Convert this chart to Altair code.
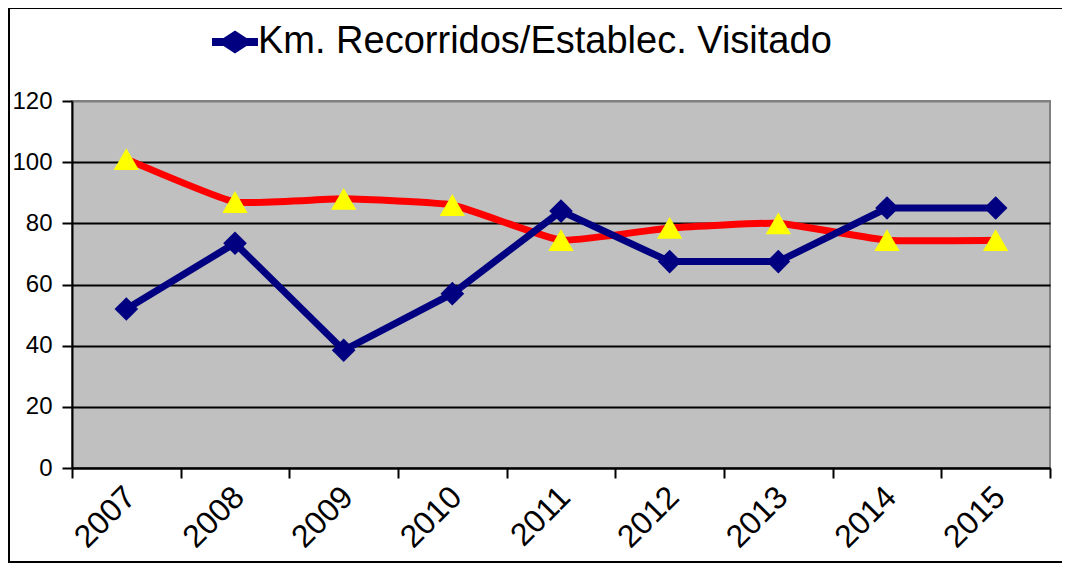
import altair as alt
import pandas as pd

years = ["2007", "2008", "2009", "2010", "2011", "2012", "2013", "2014", "2015"]
km_recorridos = [52, 73.5, 38.5, 57, 84, 67.5, 67.5, 85, 85]
serie_roja = [101, 87, 88, 86, 74.5, 78.5, 80, 74.5, 74.5]
y_ticks = [0, 20, 40, 60, 80, 100, 120]
legend_label = "Km. Recorridos/Establec. Visitado"

df_blue = pd.DataFrame({"year": years, "value": km_recorridos, "serie": legend_label})
df_red = pd.DataFrame({"year": years, "value": serie_roja})

FONT = "Arial, Liberation Sans, sans-serif"

x_enc = alt.X(
    "year:N",
    scale=alt.Scale(type="band", domain=years, paddingInner=0, paddingOuter=0),
    axis=alt.Axis(
        title=None, labelAngle=-45, labelFontSize=32, labelFont=FONT, labelColor="#000000",
        tickBand="extent", tickSize=10, tickColor="#000000", tickWidth=2,
        domainColor="#000000", domainWidth=2, labelPadding=3, labelOffset=-7, grid=False,
    ),
)
y_enc = alt.Y(
    "value:Q",
    scale=alt.Scale(domain=[0, 120], nice=False),
    axis=alt.Axis(
        title=None, values=y_ticks, labelFontSize=24, labelFont=FONT, labelColor="#000000",
        tickSize=10, tickColor="#000000", tickWidth=2, domainColor="#000000", domainWidth=2,
        labelPadding=10, grid=True, gridWidth=2,
        gridColor={"condition": {"test": "datum.value >= 120", "value": "#808080"}, "value": "#000000"},
    ),
)

red_line = alt.Chart(df_red).mark_line(color="#FF0000", strokeWidth=7, interpolate="cardinal", tension=0.6).encode(x=x_enc, y=y_enc)
red_pts = alt.Chart(df_red).mark_point(shape="triangle-up", filled=True, color="#FFFF00", size=640, opacity=1).encode(x=x_enc, y=y_enc)

legend_symbol = "M-1,-0.17L-0.5,-0.17L0,-0.5L0.5,-0.17L1,-0.17L1,0.17L0.5,0.17L0,0.5L-0.5,0.17L-1,0.17Z"

blue_line = alt.Chart(df_blue).mark_line(strokeWidth=7).encode(
    x=x_enc, y=y_enc,
    color=alt.Color(
        "serie:N",
        scale=alt.Scale(domain=[legend_label], range=["#000080"]),
        legend=alt.Legend(
            title=None, orient="none", legendX=140, legendY=-82, padding=0,
            symbolType=legend_symbol, symbolSize=2116, symbolFillColor="#000080",
            symbolStrokeWidth=0, symbolOffset=0,
            labelFontSize=38, labelFont=FONT, labelColor="#000000", labelOffset=0,
            labelLimit=1000,
        ),
    ),
)
blue_pts = alt.Chart(df_blue).mark_point(shape="diamond", filled=True, color="#000080", size=560, opacity=1).encode(x=x_enc, y=y_enc)

frame = df_red.head(1)
border_top = alt.Chart(frame).mark_rule(color="#000000", strokeWidth=2).encode(
    x=alt.value(-64), x2=alt.value(1100), y=alt.value(-93)
)
border_left = alt.Chart(frame).mark_rule(color="#000000", strokeWidth=2).encode(
    x=alt.value(-63), y=alt.value(-94), y2=alt.value(462)
)
border_bottom = alt.Chart(frame).mark_rule(color="#000000", strokeWidth=2).encode(
    x=alt.value(-64), x2=alt.value(1100), y=alt.value(461)
)

chart = alt.layer(red_line, blue_line, red_pts, blue_pts, border_top, border_left, border_bottom).properties(
    width=978, height=367,
    autosize=alt.AutoSizeParams(type="none"),
    padding={"left": 64, "top": 93, "right": 12, "bottom": 96},
    background="#FFFFFF",
).configure_view(
    fill="#C0C0C0", stroke="#808080", strokeWidth=2,
)

chart.save("out.html", embed_options={"renderer": "svg", "actions": False})
